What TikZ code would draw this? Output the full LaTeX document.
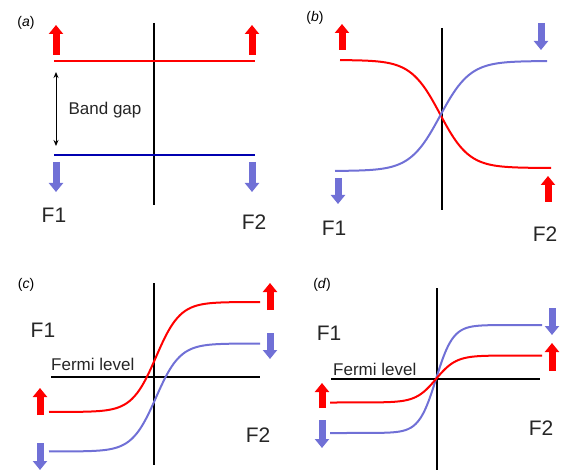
\documentclass[tikz,border=0pt]{standalone}
\usepackage{fontspec}
\setmainfont{Liberation Sans}
\usetikzlibrary{arrows.meta}

\definecolor{spinred}{RGB}{255,0,0}
\definecolor{spinblue}{RGB}{112,112,214}
\definecolor{gapblue}{RGB}{0,0,176}

\tikzset{
	spinup/.style={spinred, line width=7pt, -{Triangle[width=14pt,length=9pt]}},
	spindown/.style={spinblue, line width=7pt, -{Triangle[width=14pt,length=9pt]}},
	axisline/.style={black, line width=2.2pt},
	bandred/.style={spinred, line width=2pt},
	bandblue/.style={spinblue, line width=2pt},
	panel/.style={inner sep=0pt, font=\fontsize{14}{14}\selectfont},
	ferro/.style={inner sep=0pt, font=\fontsize{21}{21}\selectfont, text=black!85},
	smalltext/.style={inner sep=0pt, font=\fontsize{17}{17}\selectfont, text=black!85}
}

\begin{document}
\begin{tikzpicture}[x=1pt, y=-1pt]
		\useasboundingbox (0,0) rectangle (567,470);

		% (a)
		\coordinate (AT) at (154,23);
		\coordinate (AB) at (154,205);
		\coordinate (AR1) at (54,61);
		\coordinate (AR2) at (255,61);
		\coordinate (AV1) at (54,155);
		\coordinate (AV2) at (255,155);
		\coordinate (AG1) at (56,72);
		\coordinate (AG2) at (56,146);

		\draw[axisline] (AT) -- (AB);
		\draw[bandred] (AR1) -- (AR2);
		\draw[gapblue, line width=2pt] (AV1) -- (AV2);
		\draw[{Stealth[length=6pt,width=5pt]}-{Stealth[length=6pt,width=5pt]}, line width=1pt] (AG1) -- (AG2);

		\draw[spinup] (56,55) -- (56,25);
		\draw[spinup] (252,55) -- (252,25);
		\draw[spindown] (56,162) -- (56,192);
		\draw[spindown] (252,162) -- (252,192);

		\node[panel] (La) at (26,23) {(\textit{a})};
		\node[smalltext] (GAP) at (105,110) {Band gap};
		\node[ferro] (AF1) at (54,215) {F1};
		\node[ferro] (AF2) at (254,222) {F2};

		% (b)
		\coordinate (BT) at (442,28);
		\coordinate (BB) at (442,210);

		\draw[axisline] (BT) -- (BB);
		\draw[bandred] plot[domain=340:551, samples=80, smooth] (\x, {114 + 54*tanh((\x-440)/29)});
		\draw[bandblue] plot[domain=335:547, samples=80, smooth] (\x, {116 - 55*tanh((\x-440)/30)});

		\draw[spinup] (342,50) -- (342,24);
		\draw[spindown] (541,23) -- (541,50);
		\draw[spindown] (338,178) -- (338,204);
		\draw[spinup] (548,202) -- (548,176);

		\node[panel] (Lb) at (315,18) {(\textit{b})};
		\node[ferro] (BF1) at (334,228) {F1};
		\node[ferro] (BF2) at (545,234) {F2};

		% (c)
		\coordinate (CT) at (154,283);
		\coordinate (CB) at (154,465);
		\coordinate (CL) at (51,377);
		\coordinate (CR) at (260,377);

		\draw[axisline] (CT) -- (CB);
		\draw[black, line width=2pt] (CL) -- (CR);
		\draw[bandred] plot[domain=49:260, samples=80, smooth] (\x, {357 - 55*tanh((\x-156)/24)});
		\draw[bandblue] plot[domain=49:260, samples=80, smooth] (\x, {397.5 - 54*tanh((\x-156)/24)});

		\draw[spinup] (40,415) -- (40,388);
		\draw[spindown] (40,443) -- (40,470);
		\draw[spinup] (270,310) -- (270,283);
		\draw[spindown] (270,333) -- (270,359);

		\node[panel] (Lc) at (26,285) {(\textit{c})};
		\node[ferro] (CF1) at (43,330) {F1};
		\node[ferro] (CF2) at (258,435) {F2};
		\node[smalltext, anchor=base west] (CFL) at (51,370) {Fermi level};

		% (d)
		\coordinate (DT) at (437,288);
		\coordinate (DB) at (437,470);
		\coordinate (DL) at (331,379);
		\coordinate (DR) at (540,379);

		\draw[axisline] (DT) -- (DB);
		\draw[black, line width=2pt] (DL) -- (DR);
		\draw[bandblue] plot[domain=330:542, samples=80, smooth] (\x, {379 - 54*tanh((\x-436)/17)});
		\draw[bandred] plot[domain=330:542, samples=80, smooth] (\x, {379 - 23.5*tanh((\x-436)/20)});

		\draw[spinup] (322,408) -- (322,383);
		\draw[spindown] (322,420) -- (322,448);
		\draw[spindown] (552,308) -- (552,335);
		\draw[spinup] (552,371) -- (552,343);

		\node[panel] (Ld) at (322,285) {(\textit{d})};
		\node[ferro] (DF1) at (329,333) {F1};
		\node[ferro] (DF2) at (541,428) {F2};
		\node[smalltext, anchor=base west] (DFL) at (333,375) {Fermi level};
	\end{tikzpicture}
\end{document}
